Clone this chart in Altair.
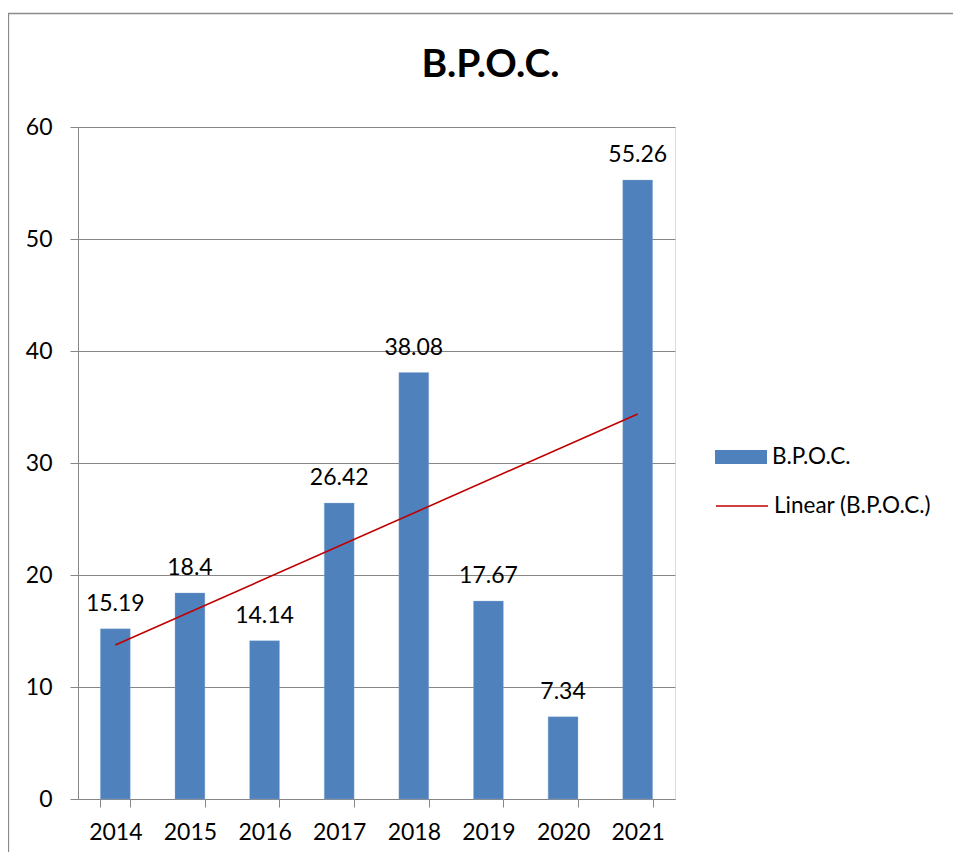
import altair as alt
import pandas as pd

years = ["2014", "2015", "2016", "2017", "2018", "2019", "2020", "2021"]
values = [15.19, 18.4, 14.14, 26.42, 38.08, 17.67, 7.34, 55.26]
series_name = "B.P.O.C."
trend_name = "Linear (B.P.O.C.)"
y_ticks = [0, 10, 20, 30, 40, 50, 60]

df = pd.DataFrame({"year": years, "value": values, "series": [series_name] * len(years)})

FONT = "Lato"
BAR = "#4F81BD"
RED = "#C00000"
GRAY = "#868686"

x_scale = alt.Scale(domain=years, paddingInner=0.6, paddingOuter=0.3)
y_scale = alt.Scale(domain=[0, 60], nice=False)

bar_legend = alt.Legend(
    title=None,
    orient="none",
    legendX=637,
    legendY=304,
    symbolType="M-1,-0.27H1V0.27H-1Z",
    symbolSize=2704,
    symbolStrokeWidth=0,
    symbolOpacity=1,
    labelFont=FONT,
    labelFontSize=22.5,
    labelColor="black",
    labelOffset=5,
)

line_legend = alt.Legend(
    title=None,
    orient="none",
    legendX=637,
    legendY=352,
    symbolType="M-1,0H1",
    symbolSize=2704,
    symbolStrokeWidth=1.5,
    symbolOpacity=1,
    labelFont=FONT,
    labelFontSize=22.5,
    labelColor="black",
    labelOffset=5,
)

base = alt.Chart(df)

frame = alt.Chart(alt.Data(values=[{"f": 1}])).mark_rect(
    fillOpacity=0, stroke="#8a8a8a", strokeWidth=1.3
).encode(
    x=alt.value(-69.5), x2=alt.value(1000), y=alt.value(-113.5), y2=alt.value(1000)
)

bars = base.mark_bar(stroke="#8fb0d8", strokeWidth=0.6, strokeOpacity=0.6).encode(
    x=alt.X(
        "year:N",
        scale=x_scale,
        axis=alt.Axis(
            title=None,
            labelAngle=0,
            tickBand="extent",
            tickSize=8,
            labelPadding=14,
            labelFont=FONT,
            labelFontSize=23,
            labelColor="black",
            domainColor=GRAY,
            tickColor=GRAY,
            grid=False,
        ),
    ),
    y=alt.Y(
        "value:Q",
        scale=y_scale,
        axis=alt.Axis(
            title=None,
            values=y_ticks,
            tickSize=8,
            labelPadding=18,
            labelFont=FONT,
            labelFontSize=23,
            labelColor="black",
            domainColor=GRAY,
            tickColor=GRAY,
            gridColor=GRAY,
            grid=True,
        ),
    ),
    fill=alt.Fill("series:N", scale=alt.Scale(domain=[series_name], range=[BAR]), legend=bar_legend),
)

labels = base.mark_text(
    baseline="alphabetic", dy=-18, font=FONT, fontSize=23, color="black"
).encode(
    x=alt.X("year:N", scale=x_scale),
    y=alt.Y("value:Q", scale=y_scale),
    text=alt.Text("value:Q"),
)

trend = (
    base.transform_calculate(idx="toNumber(datum.year) - 2014")
    .transform_regression("idx", "value", method="linear")
    .transform_calculate(year="toString(datum.idx + 2014)", trend="'" + trend_name + "'")
    .mark_line(strokeWidth=1.6)
    .encode(
        x=alt.X("year:N", scale=x_scale),
        y=alt.Y("value:Q", scale=y_scale),
        stroke=alt.Stroke("trend:N", scale=alt.Scale(domain=[trend_name], range=[RED]), legend=line_legend),
    )
)

chart = (
    alt.layer(frame, bars, labels, trend)
    .properties(
        width=597,
        height=672,
        autosize=alt.AutoSizeParams(type="none"),
        padding={"left": 70, "top": 119, "right": 278, "bottom": 53},
        title=alt.TitleParams(
            text="B.P.O.C.",
            font=FONT,
            fontSize=39,
            fontWeight="bold",
            color="black",
            anchor="middle",
            frame="group",
            dx=114,
            baseline="alphabetic",
            offset=-103,
        ),
    )
    .resolve_scale(fill="independent", stroke="independent")
    .configure_view(stroke=None)
    .configure(background="white")
)

chart.save("out.html", embed_options={"renderer": "svg", "actions": False})
